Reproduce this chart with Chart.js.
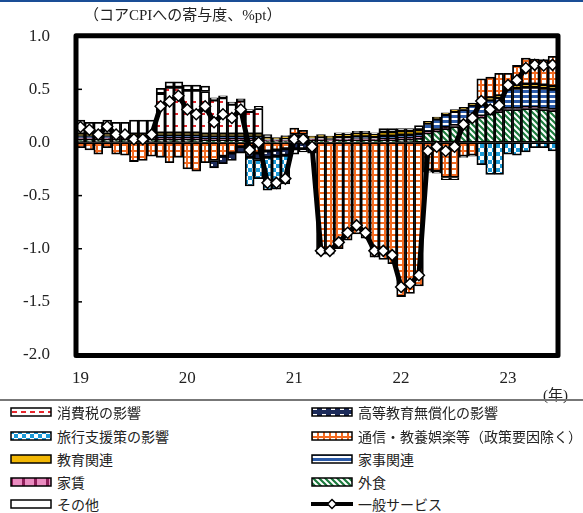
<!DOCTYPE html>
<html><head><meta charset="utf-8">
<script src="https://cdn.jsdelivr.net/npm/chart.js@4.4.0/dist/chart.umd.min.js"></script>
<style>
html,body{margin:0;padding:0;background:#fff;}
#wrap{position:relative;width:583px;height:513px;overflow:hidden;font-family:"Liberation Serif","Noto Sans CJK JP",serif;color:#222;}
#topline{position:absolute;left:0;top:0;width:583px;height:2px;background:#1a4e96;}
#cv{position:absolute;left:0;top:0;}
#title{position:absolute;left:84px;top:6px;font-size:15px;line-height:18px;white-space:nowrap;}
#unit{position:absolute;left:543px;top:386px;font-size:15px;line-height:18px;}
#sep{position:absolute;left:0;top:399px;width:583px;height:2px;background:#777;}
.lg{position:absolute;display:flex;align-items:center;font-size:14px;line-height:16px;white-space:nowrap;font-family:"Noto Sans CJK JP",sans-serif;color:#222;}
.lg canvas{margin-right:5px;display:block;}
</style></head>
<body>
<div id="wrap">
  <div id="topline"></div>
  <canvas id="cv" width="583" height="400"></canvas>
  <div id="title">（コアCPIへの寄与度、%pt）</div>
  <div id="unit">(年)</div>
  <div id="sep"></div>
  <div id="legend"></div>
</div>
<script>
// ---------- DATA ----------
const months = [
 '19/1','19/2','19/3','19/4','19/5','19/6','19/7','19/8','19/9','19/10','19/11','19/12',
 '20/1','20/2','20/3','20/4','20/5','20/6','20/7','20/8','20/9','20/10','20/11','20/12',
 '21/1','21/2','21/3','21/4','21/5','21/6','21/7','21/8','21/9','21/10','21/11','21/12',
 '22/1','22/2','22/3','22/4','22/5','22/6','22/7','22/8','22/9','22/10','22/11','22/12',
 '23/1','23/2','23/3','23/4','23/5','23/6'];
const yearLabels = ['19','20','21','22','23'];

const eatOut = [0.03,0.03,0.03,0.03,0.03,0.03,0.03,0.03,0.03,
 0.03,0.03,0.03,0.03,0.03,0.02,
 0.02,0.02,0.02,0.02,0.02,0.02,
 0.01,0.01,0.01,0.02,0.02,0.02,
 0.02,0.015,0.02,0.02,0.02,0.02,0.02,0.02,0.02,0.03,0.03,0.04,
 0.09,0.11,0.13,0.15,0.18,0.21,0.24,0.27,0.29,0.31,0.31,0.32,0.32,0.31,0.30];
const rent = [0.01,0.01,0.01,0.01,0.01,0.01,0.01,0.01,0.01,0.01,0.01,0.01,
 0.01,0.01,0.01,0.01,0.01,0.01,0.01,0.01,0.01,0.01,0.01,0.01,
 0.01,0.01,0.01,0.01,0.01,0.01,0.01,0.01,0.01,0.01,0.01,0.01,
 0.01,0.01,0.01,0.01,0.01,0.01,0.01,0.01,0.01,0.01,0.01,0.01,
 0.01,0.01,0.01,0.01,0.01,0.01];
const housework = [0.02,0.02,0.02,0.02,0.02,0.02,0.02,0.02,0.02,
 0.03,0.03,0.03,0.03,0.03,0.03,0.03,0.03,0.03,0.03,0.03,0.03,
 0.01,0.01,0.015,0.015,0.015,0.01,
 0.02,0.015,0.02,0.02,0.025,0.025,0.02,0.03,0.03,0.03,0.03,0.03,
 0.08,0.10,0.12,0.13,0.12,0.13,0.11,0.12,0.12,0.18,0.19,0.19,0.19,0.19,0.19];
const education = [0.02,0.02,0.02,0.02,0.02,0.02,0.02,0.02,0.02,
 0.02,0.02,0.02,0.02,0.02,0.02,0.02,0.02,0.02,0.02,0.02,0.02,
 0.015,0.015,0.02,0.03,0.03,0.02,
 0.025,0.02,0.03,0.03,0.035,0.035,0.03,0.04,0.04,0.04,0.04,0.04,
 0.02,0.02,0.02,0.02,0.02,0.02,0.02,0.02,0.02,0.03,0.03,0.03,0.03,0.03,0.03];
const telecom = [-0.05,-0.07,-0.11,-0.05,-0.11,-0.12,-0.18,-0.17,-0.13,
 -0.14,-0.19,-0.14,-0.25,-0.27,-0.19,-0.17,-0.13,-0.10,-0.04,-0.08,-0.10,-0.08,-0.07,-0.06,
 0.06,0.04,-0.04,
 -1.05,-1.05,-1.00,-0.92,-0.86,-0.90,-1.08,-1.10,-1.14,-1.45,-1.42,-1.35,
 -0.26,-0.27,-0.33,-0.33,-0.13,-0.12,
 0.22,0.195,0.21,0.12,0.185,0.245,0.235,0.24,0.28];
const higherEdu = [0,0,0,0,0,0,0,0,0,0,0,0,
 0,0,0,-0.07,-0.07,-0.07,-0.06,-0.06,-0.06,-0.06,-0.06,-0.06,
 -0.06,-0.06,-0.06,0,0,0,0,0,0,0,0,0,
 0,0,0,0,0,0,0,0,0,0,0,0,
 0,0,0,0,0,0];
const travel = [0,0,0,0,0,0,0,0,0,0,0,0,
 0,0,0,0,0,0,0,-0.27,-0.18,-0.31,-0.31,-0.27,
 0,0,0,0,0,0,0,0,0,0,0,0,
 0,0,0,0,0,0,0,0,0,-0.21,-0.30,-0.30,
 -0.11,-0.12,-0.09,-0.05,-0.05,-0.08];
const consTax = [0,0,0,0,0,0,0,0,0,0.37,0.43,0.43,
 0.40,0.40,0.40,0.32,0.34,0.28,0.31,0.21,0.24,0,0,0,
 0,0,0,0,0,0,0,0,0,0,0,0,
 0,0,0,0,0,0,0,0,0,0,0,0,
 0,0,0,0,0,0];
const others = [0.13,0.11,0.11,0.13,0.11,0.11,0.13,0.13,0.13,
 0.05,0.05,0.05,0.05,0.05,0.05,0.02,0.02,0.02,0.02,0.02,0.02,
 0.03,0,0.01,-0.05,-0.03,0,
 0,0,0.01,0.01,0.015,0.015,0.01,0.03,0.03,0.02,0.02,0.04,
 -0.02,-0.02,-0.02,-0.02,-0.01,-0.01,
 0,0,0,0,0,0,0,0,0];
const generalServices = [0.145,0.12,0.075,0.15,0.075,0.075,0.03,0.03,0.075,
 0.34,0.385,0.44,0.31,0.265,0.34,0.19,0.265,0.23,0.31,
 -0.07,0.0,-0.38,-0.38,-0.34,0.03,0.03,-0.04,
 -1.02,-1.02,-0.94,-0.85,-0.78,-0.85,-1.02,-1.02,-1.06,-1.36,-1.33,-1.25,
 -0.08,-0.04,-0.08,-0.04,0.17,0.23,0.39,0.31,0.35,0.54,0.585,0.70,0.73,0.725,0.73];

// ---------- PATTERNS ----------
function pat(ctx,w,h,draw){const c=document.createElement('canvas');c.width=w;c.height=h;const g=c.getContext('2d');draw(g,w,h);return ctx.createPattern(c,'repeat');}
const fills = {
  tax: ctx=>pat(ctx,9,12,g=>{g.fillStyle='#fff';g.fillRect(0,0,9,12);g.fillStyle='#e8262c';g.fillRect(2,5,5,2);}),
  hiEdu: ctx=>pat(ctx,9,6,g=>{g.fillStyle='#1c2b5a';g.fillRect(0,0,9,6);g.fillStyle='#fff';g.fillRect(2,2,4,2);}),
  travel: ctx=>pat(ctx,8,8,g=>{g.fillStyle='#fff';g.fillRect(0,0,8,8);g.fillStyle='#1a9ad8';g.fillRect(0,0,4,4);g.fillRect(4,4,4,4);}),
  tel: ctx=>pat(ctx,6,6,g=>{g.fillStyle='#fff';g.fillRect(0,0,6,6);g.fillStyle='#f26a21';g.fillRect(0,0,6,2);g.fillRect(0,0,2,6);}),
  edu: ctx=>'#f2b705',
  house: ctx=>pat(ctx,4,5,g=>{g.fillStyle='#fff';g.fillRect(0,0,4,5);g.fillStyle='#2b5aa8';g.fillRect(0,0,4,3);}),
  rent: ctx=>pat(ctx,12,4,g=>{g.fillStyle='#ea8cc0';g.fillRect(0,0,12,4);g.fillStyle='#8e1f5a';g.fillRect(0,0,3,4);}),
  eat: ctx=>pat(ctx,6,6,g=>{g.fillStyle='#fff';g.fillRect(0,0,6,6);g.strokeStyle='#1b7a3c';g.lineWidth=2.2;g.beginPath();g.moveTo(-1,-1);g.lineTo(7,7);g.moveTo(5,-1);g.lineTo(7,1);g.moveTo(-1,5);g.lineTo(1,7);g.stroke();}),
  other: ctx=>'#fff'
};

const cv = document.getElementById('cv');
const ctx = cv.getContext('2d');

// stacking order: first = nearest to zero
const barSeries = [
  {label:'外食', data:eatOut, f:'eat'},
  {label:'家賃', data:rent, f:'rent'},
  {label:'家事関連', data:housework, f:'house'},
  {label:'教育関連', data:education, f:'edu'},
  {label:'通信・教養娯楽等（政策要因除く）', data:telecom, f:'tel'},
  {label:'高等教育無償化の影響', data:higherEdu, f:'hiEdu'},
  {label:'旅行支援策の影響', data:travel, f:'travel'},
  {label:'消費税の影響', data:consTax, f:'tax'},
  {label:'その他', data:others, f:'other'}
];

const datasets = [{
  type:'line', label:'一般サービス', data:generalServices, order:0, stack:'line',
  borderColor:'#000', borderWidth:5, tension:0,
  pointStyle:'rectRot', pointRadius:5.5, pointBackgroundColor:'#fff', pointBorderColor:'#000', pointBorderWidth:1.5
}];
barSeries.forEach(s=>datasets.push({
  type:'bar', label:s.label, data:s.data, order:1, stack:'bars',
  backgroundColor:fills[s.f](ctx), borderColor:'#000', borderWidth:1.8, borderSkipped:false,
  barPercentage:1, categoryPercentage:1
}));

const framePlugin = {
  id:'frame',
  afterDraw(chart){
    const {ctx, chartArea:a, scales:{y}} = chart;
    ctx.save();
    ctx.strokeStyle='#000';
    ctx.lineWidth=1.5;
    [-1.5,-1,-0.5,0.5].forEach(v=>{const py=y.getPixelForValue(v);ctx.beginPath();ctx.moveTo(a.left+1,py);ctx.lineTo(a.left+6,py);ctx.stroke();});
    ctx.lineWidth=5;
    ctx.lineJoin='round';
    ctx.strokeRect(a.left, a.top-0.5, a.right-a.left+1, a.bottom-a.top+1);
    ctx.restore();
  }
};

new Chart(ctx,{
  type:'bar',
  data:{labels:months, datasets},
  options:{
    responsive:false, animation:false, devicePixelRatio:1,
    layout:{padding:{left:0,right:26,top:32,bottom:0}},
    plugins:{legend:{display:false}, tooltip:{enabled:false}, title:{display:false}},
    scales:{
      x:{stacked:true, grid:{display:false, drawTicks:false}, border:{display:false},
         ticks:{autoSkip:false, maxRotation:0, minRotation:0, padding:13, color:'#222',
                font:{family:'"Liberation Serif", serif', size:17},
                callback:(v,i)=> i%12===0 ? yearLabels[i/12] : ''},
         afterFit(s){s.height=45;}},
      y:{stacked:true, min:-2, max:1, grid:{display:false, drawTicks:false}, border:{display:false},
         ticks:{stepSize:0.5, padding:26, color:'#222', font:{family:'"Liberation Serif", serif', size:17},
                callback:v=>v.toFixed(1)},
         afterFit(s){s.width=76;}}
    }
  },
  plugins:[framePlugin]
});

// ---------- LEGEND ----------
const legendItems = [
  ['消費税の影響','tax'],['高等教育無償化の影響','hiEdu'],
  ['旅行支援策の影響','travel'],['通信・教養娯楽等（政策要因除く）','tel'],
  ['教育関連','edu'],['家事関連','house'],
  ['家賃','rent'],['外食','eat'],
  ['その他','other'],['一般サービス','line']
];
const lg = document.getElementById('legend');
const rowY = [412,436,459,482,504];
const colX = [10,311];
legendItems.forEach((it,k)=>{
  const r=Math.floor(k/2), c=k%2;
  const d=document.createElement('div'); d.className='lg';
  d.style.left=colX[c]+'px'; d.style.top=(rowY[r]-8)+'px'; d.style.height='16px';
  const sw=document.createElement('canvas'); sw.width=42; sw.height=12;
  const g=sw.getContext('2d');
  if(it[1]==='line'){
    g.strokeStyle='#000'; g.lineWidth=4; g.beginPath(); g.moveTo(0,6); g.lineTo(42,6); g.stroke();
    g.fillStyle='#fff'; g.lineWidth=1.5; g.beginPath(); g.moveTo(21,1.5); g.lineTo(25.5,6); g.lineTo(21,10.5); g.lineTo(16.5,6); g.closePath(); g.fill(); g.stroke();
  } else {
    g.fillStyle=fills[it[1]](g); g.fillRect(1,2,40,8);
    g.strokeStyle='#000'; g.lineWidth=1.5; g.strokeRect(1,2,40,8);
  }
  d.appendChild(sw);
  const t=document.createElement('span'); t.textContent=it[0]; d.appendChild(t);
  lg.appendChild(d);
});
</script>
</body></html>
